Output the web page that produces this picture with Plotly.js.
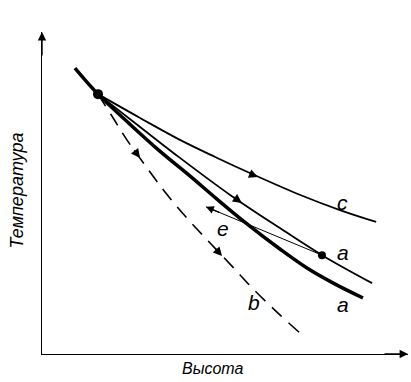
<!DOCTYPE html>
<html><head><meta charset="utf-8">
<script src="https://cdn.plot.ly/plotly-3.0.1.min.js"></script>
<style>html,body{margin:0;padding:0;background:#fff}#chart{width:411px;height:382px}</style>
</head><body><div id="chart"></div>
<script>
// Curve a (thick, environment)
const curveA_x = [0.90, 1.53, 2.40, 3.22, 4.04, 4.78, 5.60, 6.50, 7.24, 8.01, 8.77];
const curveA_y = [8.88, 8.07, 7.14, 6.30, 5.53, 4.81, 4.04, 3.26, 2.67, 2.17, 1.74];
// Line a (path through point a)
const lineA_x = [1.53, 2.68, 3.77, 5.14, 6.50, 7.65, 9.02];
const lineA_y = [8.07, 7.05, 6.09, 4.94, 3.91, 3.07, 2.20];
// Line c
const lineC_x = [1.53, 2.68, 3.77, 4.73, 5.68, 6.99, 8.14, 9.13];
const lineC_y = [8.07, 7.33, 6.65, 6.12, 5.62, 4.97, 4.47, 4.10];
// Line b (dashed)
const lineB_x = [1.53, 1.91, 2.32, 2.87, 3.36, 3.96, 4.54, 5.19, 5.77, 6.42, 7.05];
const lineB_y = [8.07, 7.39, 6.65, 5.78, 5.03, 4.22, 3.51, 2.73, 2.02, 1.30, 0.65];
// Return path e
const lineE_x = [7.65, 4.48];
const lineE_y = [3.07, 4.57];
// Points
const startPt = [1.53, 8.07];
const pointA = [7.65, 3.07];
// Labels
const labelText = ["c", "a", "a", "b", "e"];
const labelX = [8.22, 8.22, 8.22, 5.80, 4.95];
const labelY = [4.72, 3.14, 1.55, 1.60, 3.90];
// Direction arrows: [tailX, tailY, headX, headY]
const dirArrows = [
  [5.63, 5.62, 5.90, 5.50],
  [5.19, 4.91, 5.46, 4.69],
  [2.49, 6.37, 2.68, 6.09],
  [4.70, 3.32, 4.92, 3.04]
];

const traces = [
  {x: lineC_x, y: lineC_y, mode: 'lines', line: {color: '#000', width: 1.8, shape: 'spline'}},
  {x: lineA_x, y: lineA_y, mode: 'lines', line: {color: '#000', width: 1.8, shape: 'spline'}},
  {x: lineB_x, y: lineB_y, mode: 'lines', line: {color: '#000', width: 1.6, shape: 'spline', dash: '14px,9px'}},
  {x: curveA_x, y: curveA_y, mode: 'lines', line: {color: '#000', width: 3.5, shape: 'spline'}},
  {x: lineE_x, y: lineE_y, mode: 'lines', line: {color: '#000', width: 1}},
  {x: [startPt[0]], y: [startPt[1]], mode: 'markers', marker: {color: '#000', size: 10}},
  {x: [pointA[0]], y: [pointA[1]], mode: 'markers', marker: {color: '#000', size: 8}}
];

const ann = [];
for (let i = 0; i < labelText.length; i++) {
  ann.push({x: labelX[i], y: labelY[i], xref: 'x', yref: 'y', text: labelText[i], showarrow: false,
    xanchor: 'center', yanchor: 'middle',
    font: {family: 'Liberation Sans, Arial', size: 21, color: '#000', style: 'italic'}});
}
dirArrows.forEach(a => ann.push({x: a[2], y: a[3], ax: a[0], ay: a[1], xref: 'x', yref: 'y', axref: 'x', ayref: 'y',
  text: '', showarrow: true, arrowhead: 2, arrowsize: 1.2, arrowwidth: 1.5, arrowcolor: '#000', standoff: 0}));
// arrow of path e
ann.push({x: lineE_x[1], y: lineE_y[1], ax: lineE_x[1] + 0.4, ay: lineE_y[1] - 0.19, xref: 'x', yref: 'y', axref: 'x', ayref: 'y',
  text: '', showarrow: true, arrowhead: 2, arrowsize: 1.3, arrowwidth: 1.2, arrowcolor: '#000', standoff: 0});
// axis arrows
ann.push({x: 0, y: 1, xref: 'paper', yref: 'paper', ax: 0, ay: 25, text: '', showarrow: true, arrowhead: 2, arrowsize: 1.2, arrowwidth: 1.4, arrowcolor: '#000', standoff: 0});
ann.push({x: 1, y: 0, xref: 'paper', yref: 'paper', ax: -25, ay: 0, text: '', showarrow: true, arrowhead: 2, arrowsize: 1.2, arrowwidth: 1.4, arrowcolor: '#000', standoff: 0});
// axis titles
ann.push({x: -0.067, y: 0.509, xref: 'paper', yref: 'paper', text: 'Температура', textangle: -90, showarrow: false,
  xanchor: 'center', yanchor: 'middle',
  font: {family: 'Liberation Sans, Arial', size: 18, color: '#000', style: 'italic'}});
ann.push({x: 0.467, y: -0.045, xref: 'paper', yref: 'paper', text: 'Высота', showarrow: false,
  xanchor: 'center', yanchor: 'middle',
  font: {family: 'Liberation Sans, Arial', size: 16, color: '#000', style: 'italic'}});

const layout = {
  width: 411, height: 382,
  margin: {l: 42, r: 3, t: 32, b: 28},
  paper_bgcolor: '#fff', plot_bgcolor: '#fff',
  showlegend: false,
  xaxis: {range: [0, 10], showgrid: false, zeroline: false, showticklabels: false, ticks: '', showline: true, linecolor: '#000', linewidth: 1.4},
  yaxis: {range: [0, 10], showgrid: false, zeroline: false, showticklabels: false, ticks: '', showline: true, linecolor: '#000', linewidth: 1.4},
  annotations: ann
};
Plotly.newPlot('chart', traces, layout, {staticPlot: true});
</script>
</body></html>
